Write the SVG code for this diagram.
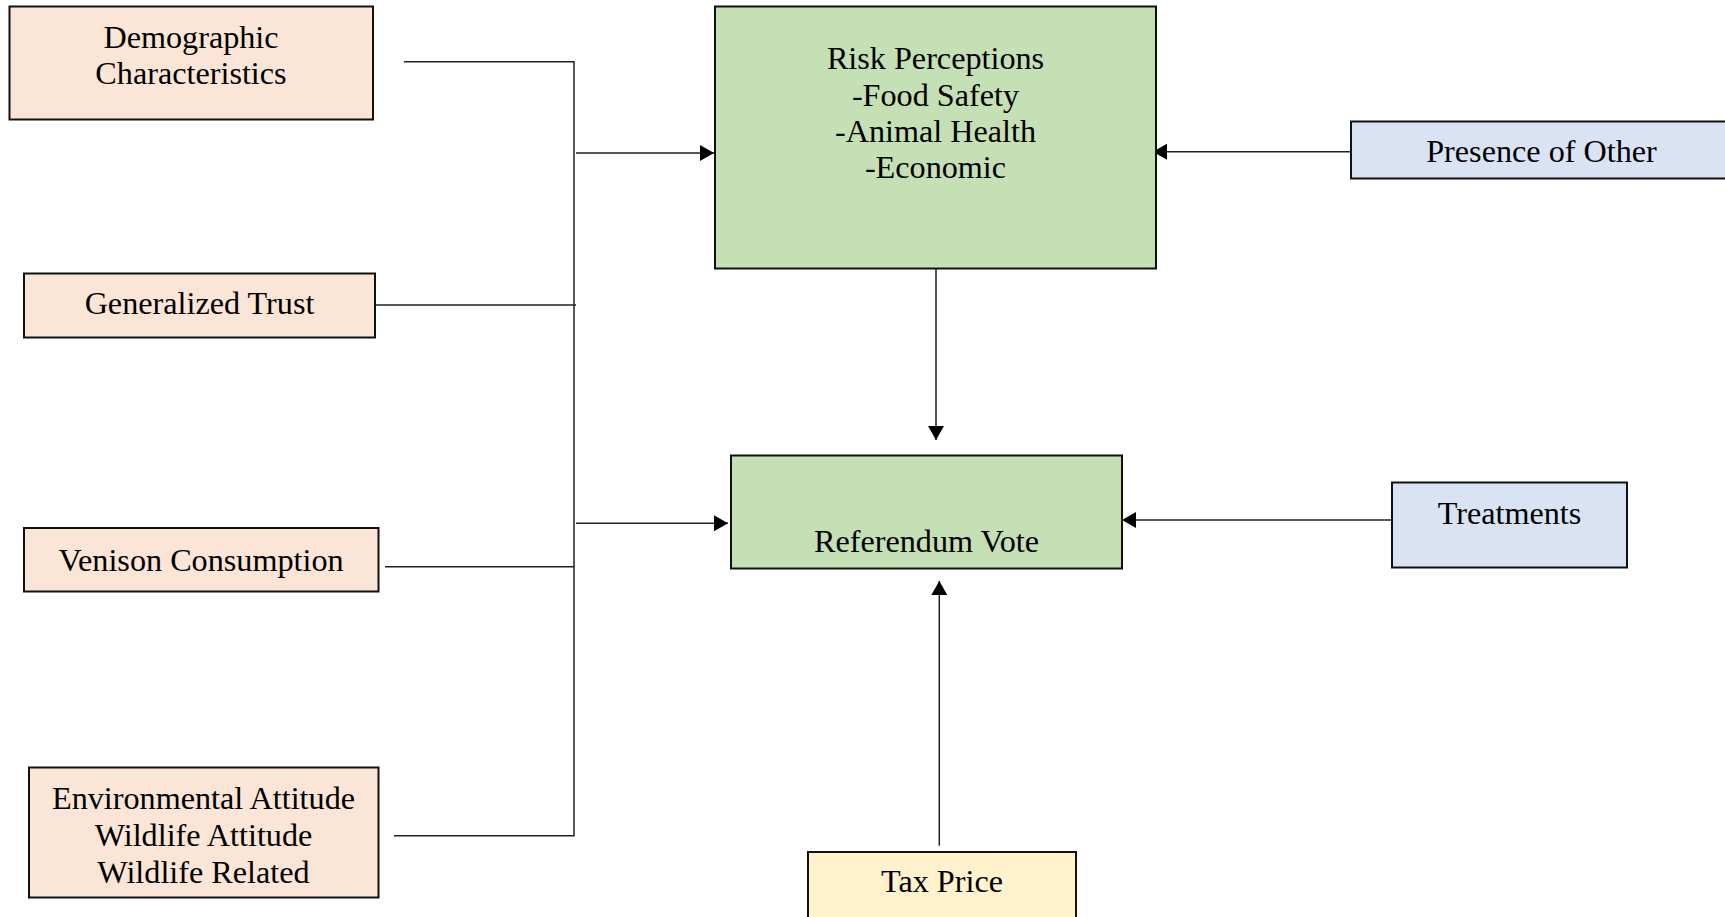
<svg xmlns="http://www.w3.org/2000/svg" width="1725" height="917" viewBox="0 0 1725 917">
<defs>
<marker id="arr" markerUnits="userSpaceOnUse" markerWidth="15" markerHeight="16" refX="14" refY="8" orient="auto">
<path d="M0,0 L14,8 L0,16 z" fill="#000"/>
</marker>
<style>
.box{stroke:#111;stroke-width:2}
.peach{fill:#FBE5D6}
.green{fill:#C5E0B4}
.blue{fill:#DAE3F3}
.yellow{fill:#FFF2CC}
.t{font-family:"Liberation Serif","Times New Roman",serif;font-size:32.2px;fill:#000;text-anchor:middle}
.ln{fill:none;stroke:#222;stroke-width:1.5}
</style>
</defs>
<rect width="1725" height="917" fill="#fff"/>
<g id="connectors">
<path class="ln" d="M404 61.7 H574 V835.7 H394"/>
<path class="ln" d="M375 305 H576"/>
<path class="ln" d="M385 566.7 H574"/>
<path class="ln" d="M576 153 H714" marker-end="url(#arr)"/>
<path class="ln" d="M576 523.3 H728" marker-end="url(#arr)"/>
<path class="ln" d="M936 269 V440" marker-end="url(#arr)"/>
<path class="ln" d="M1351 151.7 H1153" marker-end="url(#arr)"/>
<path class="ln" d="M1395 520 H1122" marker-end="url(#arr)"/>
<path class="ln" d="M939.3 845.7 V581" marker-end="url(#arr)"/>
</g>
<g id="demographic">
<rect class="box peach" x="9.5" y="6.5" width="363.5" height="113"/>
<text class="t" x="191" y="48">Demographic</text>
<text class="t" x="191" y="84">Characteristics</text>
</g>
<g id="trust">
<rect class="box peach" x="24" y="273.5" width="351" height="64"/>
<text class="t" x="199.5" y="314">Generalized Trust</text>
</g>
<g id="venison">
<rect class="box peach" x="24" y="528" width="354.5" height="63.5"/>
<text class="t" x="201" y="570.5">Venison Consumption</text>
</g>
<g id="attitudes">
<rect class="box peach" x="29" y="767.5" width="349.5" height="130"/>
<text class="t" x="203.5" y="809">Environmental Attitude</text>
<text class="t" x="203.5" y="846">Wildlife Attitude</text>
<text class="t" x="203.5" y="882.5">Wildlife Related</text>
</g>
<g id="risk">
<rect class="box green" x="715" y="6.5" width="441" height="262"/>
<text class="t" x="935.5" y="69">Risk Perceptions</text>
<text class="t" x="935.5" y="105.5">-Food Safety</text>
<text class="t" x="935.5" y="142">-Animal Health</text>
<text class="t" x="935.5" y="177.5">-Economic</text>
</g>
<g id="referendum">
<rect class="box green" x="731" y="455.5" width="391" height="113"/>
<text class="t" x="926.5" y="552">Referendum Vote</text>
</g>
<g id="presence">
<rect class="box blue" x="1351" y="121.5" width="390" height="57"/>
<text class="t" x="1541.5" y="162">Presence of Other</text>
</g>
<g id="treatments">
<rect class="box blue" x="1392" y="482.5" width="235" height="85"/>
<text class="t" x="1509.5" y="524">Treatments</text>
</g>
<g id="tax">
<rect class="box yellow" x="808" y="852" width="268" height="80"/>
<text class="t" x="942" y="892">Tax Price</text>
</g>
</svg>
